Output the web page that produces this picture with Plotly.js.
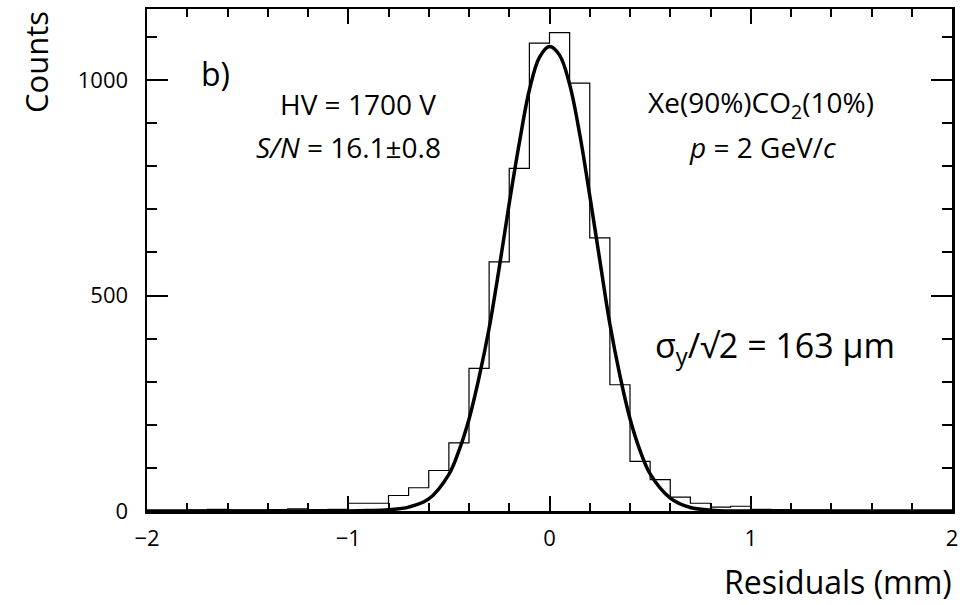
<!DOCTYPE html>
<html>
<head>
<meta charset="utf-8">
<script src="https://cdn.plot.ly/plotly-3.0.1.min.js"></script>
<style>html,body{margin:0;padding:0;background:#fff;}#chart{width:979px;height:605px;}</style>
</head>
<body>
<div id="chart"></div>
<script>
// Histogram: residual bins of 0.1 mm from -2.0 to 2.0 (left edges)
const binLowEdges = [-2.0,-1.9,-1.8,-1.7,-1.6,-1.5,-1.4,-1.3,-1.2,-1.1,
                     -1.0,-0.9,-0.8,-0.7,-0.6,-0.5,-0.4,-0.3,-0.2,-0.1,
                      0.0, 0.1, 0.2, 0.3, 0.4, 0.5, 0.6, 0.7, 0.8, 0.9,
                      1.0, 1.1, 1.2, 1.3, 1.4, 1.5, 1.6, 1.7, 1.8, 1.9];
const binWidth = 0.1;
const counts = [1,1,2,4,2,2,3,5,3,4,
                18,18,36,54,94,158,331,578,795,1086,
                1110,993,634,293,115,73,32,18,9,11,
                4,3,2,2,1,1,1,1,0,0];

// Gaussian fit curve
const fitX = [-2.0,-1.0,-0.9,-0.8,-0.7,-0.6,-0.5,-0.45,-0.4,-0.35,-0.3,-0.25,-0.2,-0.15,-0.1,-0.05,0.0,0.05,0.1,0.15,0.2,0.25,0.3,0.35,0.4,0.45,0.5,0.6,0.7,0.8,0.9,1.0,2.0];
const fitY = [0,0,1,3,9,28,85,140,213,310,424,564,714,854,977,1053,1078,1058,990,875,732,582,434,314,214,140,86,30,8,2,0,0,0];

const FONT = '"Open Sans", "Noto Sans", sans-serif';

// build step outline from the bins
const stepX = binLowEdges.concat([binLowEdges[binLowEdges.length-1] + binWidth]);
const stepY = counts.concat([counts[counts.length-1]]);

const traces = [
  {x: stepX, y: stepY, type: 'scatter', mode: 'lines',
   line: {shape: 'hv', color: '#000', width: 1.2}, hoverinfo: 'skip'},
  {x: fitX, y: fitY, type: 'scatter', mode: 'lines',
   line: {shape: 'spline', smoothing: 1, color: '#000', width: 3.5}, hoverinfo: 'skip'}
];

const layout = {
  width: 979, height: 605,
  margin: {l: 147, r: 27, t: 9, b: 94},
  paper_bgcolor: '#fff', plot_bgcolor: '#fff',
  showlegend: false,
  font: {family: FONT, color: '#000', size: 22},
  xaxis: {
    range: [-2, 2], tickmode: 'linear', tick0: -2, dtick: 1,
    ticks: 'inside', ticklen: 15, tickwidth: 2, tickcolor: '#000',
    minor: {tickmode: 'linear', tick0: -2, dtick: 0.2, ticks: 'inside', ticklen: 8, tickwidth: 2, tickcolor: '#000'},
    showline: true, linecolor: '#000', linewidth: 2.5, mirror: 'allticks',
    showgrid: false, zeroline: false, ticklabelstandoff: 6,
    tickfont: {family: FONT, size: 22},
    title: {text: ''}
  },
  yaxis: {
    range: [0, 1165], tickmode: 'linear', tick0: 0, dtick: 500,
    ticks: 'inside', ticklen: 21, tickwidth: 2, tickcolor: '#000',
    minor: {tickmode: 'linear', tick0: 0, dtick: 100, ticks: 'inside', ticklen: 10, tickwidth: 2, tickcolor: '#000'},
    showline: true, linecolor: '#000', linewidth: 2.5, mirror: 'allticks',
    showgrid: false, zeroline: false, ticklabelstandoff: 12,
    tickfont: {family: FONT, size: 22},
    title: {text: ''}
  },
  annotations: [
    {xref: 'paper', yref: 'paper', x: 1.002, y: -0.141, xanchor: 'right', yanchor: 'middle',
     text: 'Residuals (mm)', showarrow: false, font: {family: FONT, size: 32}},
    {xref: 'paper', yref: 'paper', x: -0.138, y: 1.0, xanchor: 'center', yanchor: 'top',
     text: 'Counts', textangle: -90, showarrow: false, font: {family: FONT, size: 31}},
    {xref: 'x', yref: 'y', x: -1.66, y: 1015, xanchor: 'center', yanchor: 'middle',
     text: 'b)', showarrow: false, font: {family: FONT, size: 32}},
    {xref: 'x', yref: 'y', x: -0.95, y: 945, xanchor: 'center', yanchor: 'middle',
     text: 'HV = 1700 V', showarrow: false, font: {family: FONT, size: 28}},
    {xref: 'x', yref: 'y', x: -1.0, y: 845, xanchor: 'center', yanchor: 'middle',
     text: '<i>S/N</i> = 16.1±0.8', showarrow: false, font: {family: FONT, size: 28}},
    {xref: 'x', yref: 'y', x: 1.05, y: 945, xanchor: 'center', yanchor: 'middle',
     text: 'Xe(90%)CO<sub>2</sub>(10%)', showarrow: false, font: {family: FONT, size: 28}},
    {xref: 'x', yref: 'y', x: 1.06, y: 845, xanchor: 'center', yanchor: 'middle',
     text: '<i>p</i> = 2 GeV/<i>c</i>', showarrow: false, font: {family: FONT, size: 28}},
    {xref: 'x', yref: 'y', x: 1.12, y: 380, xanchor: 'center', yanchor: 'middle',
     text: 'σ<sub>y</sub>/√2 = 163 µm', showarrow: false, font: {family: FONT, size: 34}}
  ]
};

Plotly.newPlot('chart', traces, layout, {staticPlot: true, displayModeBar: false});
</script>
</body>
</html>
